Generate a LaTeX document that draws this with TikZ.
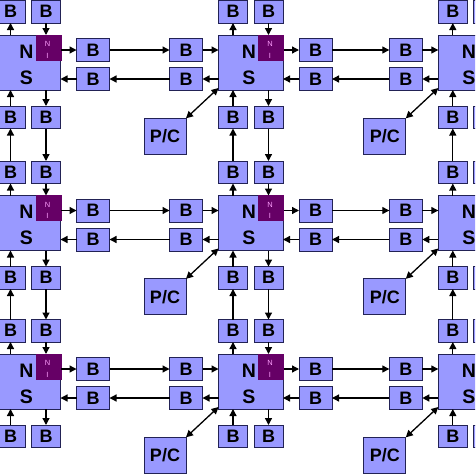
\documentclass[tikz,border=0pt]{standalone}
\usepackage{fontspec}
\setmainfont{Liberation Sans}
\usetikzlibrary{arrows.meta,calc}
\definecolor{lavanda}{RGB}{153,153,255}
\definecolor{borde}{RGB}{34,34,85}
\definecolor{morado}{RGB}{102,0,102}
\definecolor{rosa}{RGB}{255,160,255}
\tikzset{
  caja/.style={
    draw=borde,
    fill=lavanda,
    line width=0.9pt,
    inner sep=0pt,
    outer sep=0pt,
    anchor=north west,
    font=\fontsize{18}{18}\selectfont\bfseries
  },
  switch/.style={caja, minimum width=64.5pt, minimum height=55pt},
  bvert/.style={caja, minimum width=29pt, minimum height=22.5pt},
  bhorz/.style={caja, minimum width=33pt, minimum height=23pt},
  proc/.style={caja, minimum width=42pt, minimum height=36pt},
  ni/.style={
    fill=morado,
    draw=morado,
    inner sep=0pt,
    outer sep=0pt,
    anchor=north west,
    minimum width=25pt,
    minimum height=25pt
  },
  letra/.style={inner sep=0pt, font=\fontsize{19.5}{19.5}\selectfont\bfseries},
  letrani/.style={inner sep=0pt, text=rosa, font=\fontsize{7.5}{7.5}\selectfont},
  arrow/.style={
    -{Triangle[length=7pt,width=7pt]},
    line width=1.3pt,
    black
  },
  doble/.style={
    {Triangle[length=7pt,width=7pt]}-{Triangle[length=7pt,width=7pt]},
    line width=1.3pt,
    black
  }
}

\begin{document}
\begin{tikzpicture}[x=1pt,y=-1pt]
\useasboundingbox (0,0) rectangle (475,475);
\clip (0,0) rectangle (475,475);
% nodos de cada mosaico
\foreach \c/\X in {0/-4,1/218.5,2/438.3}{
  \foreach \r/\Y in {1/35,2/195.5,3/354}{
    \node[switch] (ns-\c-\r) at (\X,\Y) {};
    \node[letra] at (\X+30.5,\Y+16.5) {N};
    \node[letra] at (\X+30.5,\Y+42.5) {S};
    \node[ni] (ni-\c-\r) at (\X+40,\Y) {};
    \node[letrani] at (\X+51.5,\Y+9) {N};
    \node[letrani] at (\X+51.5,\Y+20.5) {I};
    \node[bvert] (tl-\c-\r) at (\X,\Y-34.5) {B};
    \node[bvert] (tr-\c-\r) at (\X+35.5,\Y-34.5) {B};
    \node[bvert] (bl-\c-\r) at (\X,\Y+71) {B};
    \node[bvert] (br-\c-\r) at (\X+35.5,\Y+71) {B};
    \node[bhorz] (ou-\c-\r) at (\X+80.5,\Y+3.5) {B};
    \node[bhorz] (ol-\c-\r) at (\X+80.5,\Y+32.5) {B};
    \node[bhorz] (iu-\c-\r) at (\X-49,\Y+3.5) {B};
    \node[bhorz] (il-\c-\r) at (\X-49,\Y+32.5) {B};
    \node[proc] (pc-\c-\r) at (\X-74.5,\Y+83.3) {P/C};
  }
}
% conexiones dentro de cada mosaico
\foreach \c in {0,1,2}{
  \foreach \r in {1,2,3}{
    \draw[arrow] (ou-\c-\r.west -| ni-\c-\r.east) -- (ou-\c-\r.west);
    \draw[arrow] (ol-\c-\r.west) -- (ol-\c-\r.west -| ns-\c-\r.east);
    \draw[arrow] (iu-\c-\r.east) -- (iu-\c-\r.east -| ns-\c-\r.west);
    \draw[arrow] (il-\c-\r.east -| ns-\c-\r.west) -- (il-\c-\r.east);
    \draw[arrow] (tl-\c-\r.south |- ns-\c-\r.north) -- (tl-\c-\r.south);
    \draw[arrow] (tr-\c-\r.south) -- (tr-\c-\r.south |- ns-\c-\r.north);
    \draw[arrow] (bl-\c-\r.north) -- (bl-\c-\r.north |- ns-\c-\r.south);
    \draw[arrow] (br-\c-\r.north |- ns-\c-\r.south) -- (br-\c-\r.north);
    \draw[doble] (pc-\c-\r.north east) -- ($(ns-\c-\r.south west)+(0,-2)$);
  }
}
% enlaces entre mosaicos
\foreach \c/\n in {0/1,1/2}{
  \foreach \r in {1,2,3}{
    \draw[arrow] (ou-\c-\r.east) -- (iu-\n-\r.west);
    \draw[arrow] (il-\n-\r.west) -- (ol-\c-\r.east);
  }
}
\foreach \r/\s in {1/2,2/3}{
  \foreach \c in {0,1,2}{
    \draw[arrow] (tl-\c-\s.north) -- (bl-\c-\r.south);
    \draw[arrow] (br-\c-\r.south) -- (tr-\c-\s.north);
  }
}
\end{tikzpicture}
\end{document}
